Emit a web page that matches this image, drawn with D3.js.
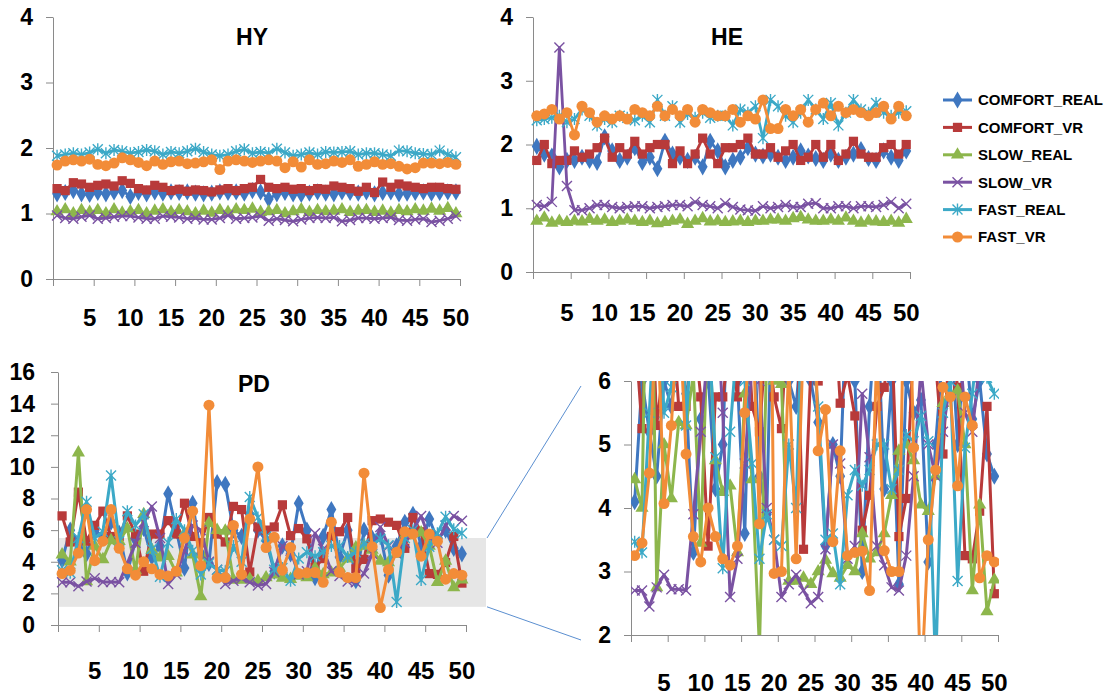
<!DOCTYPE html>
<html>
<head>
<meta charset="utf-8">
<script src="https://cdn.jsdelivr.net/npm/d3@7"></script>
<style>
  body { margin: 0; background: #fff; }
  svg text { font-family: "Liberation Sans", Arial, sans-serif; font-weight: bold; fill: #000; }
</style>
</head>
<body>
<svg id="chart" width="1112" height="698"></svg>
<script>
// ---- data ----
var categories = d3.range(1, 51);
var xTickLabels = [5, 10, 15, 20, 25, 30, 35, 40, 45, 50];
var seriesNames = ["COMFORT_REAL", "COMFORT_VR", "SLOW_REAL", "SLOW_VR", "FAST_REAL", "FAST_VR"];
var seriesColors = ["#3f77c0", "#b83a3a", "#8db64c", "#7a52a2", "#3ca9c7", "#f28c38"];
var seriesShapes = ["diamond", "square", "triangle", "x", "star", "circle"];

var hyComfortReal = [1.3,1.32,1.35,1.3,1.29,1.32,1.3,1.33,1.35,1.26,1.32,1.3,1.33,1.31,1.33,1.32,1.33,1.31,1.3,1.31,1.33,1.32,1.33,1.31,1.35,1.33,1.22,1.3,1.32,1.3,1.29,1.31,1.33,1.31,1.3,1.33,1.32,1.31,1.33,1.3,1.32,1.33,1.3,1.31,1.32,1.33,1.31,1.32,1.33,1.33];
var hyComfortVr = [1.38,1.35,1.47,1.45,1.4,1.43,1.45,1.42,1.5,1.46,1.38,1.36,1.43,1.4,1.35,1.37,1.34,1.36,1.35,1.33,1.36,1.38,1.35,1.38,1.4,1.52,1.4,1.38,1.4,1.37,1.38,1.35,1.38,1.37,1.42,1.4,1.38,1.34,1.4,1.32,1.48,1.4,1.45,1.42,1.4,1.38,1.4,1.4,1.38,1.37];
var hySlowReal = [1.03,1.06,1.0,1.05,1.02,1.05,1.0,1.06,1.01,1.03,1.05,1.0,1.04,1.06,1.02,1.05,1.03,1.0,1.04,1.01,1.05,1.02,1.06,1.05,1.07,1.02,1.03,1.05,1.0,1.03,1.06,1.02,1.05,1.03,1.04,1.06,1.02,1.04,1.05,1.02,1.04,1.01,1.05,1.03,1.06,1.04,1.07,1.04,1.08,1.0];
var hySlowVr = [0.97,0.93,0.92,0.95,0.97,0.92,0.93,0.95,0.96,0.96,0.94,0.92,0.92,0.96,0.95,0.94,0.92,0.93,0.91,0.91,0.93,0.97,0.92,0.93,0.94,0.96,0.89,0.92,0.9,0.88,0.91,0.93,0.94,0.93,0.94,0.88,0.9,0.93,0.93,0.92,0.93,0.94,0.9,0.89,0.91,0.92,0.87,0.89,0.92,0.96];
var hyFastReal = [1.88,1.9,1.92,1.9,1.93,1.98,1.92,1.97,1.95,1.92,1.94,1.97,1.95,1.9,1.94,1.92,1.95,1.99,1.94,1.9,1.88,1.9,1.95,1.98,1.92,1.94,1.92,1.99,1.93,1.88,1.9,1.93,1.9,1.94,1.93,1.94,1.95,1.9,1.92,1.92,1.9,1.88,1.96,1.95,1.92,1.91,1.9,1.96,1.9,1.86];
var hyFastVr = [1.74,1.8,1.82,1.8,1.83,1.75,1.73,1.77,1.85,1.82,1.78,1.73,1.8,1.75,1.79,1.8,1.76,1.77,1.79,1.82,1.67,1.8,1.82,1.8,1.78,1.8,1.82,1.8,1.7,1.79,1.71,1.82,1.75,1.76,1.8,1.78,1.82,1.72,1.75,1.79,1.75,1.76,1.72,1.68,1.7,1.77,1.77,1.76,1.78,1.75];

var heComfortReal = [1.97,1.85,1.82,1.65,1.75,1.75,1.8,1.75,1.72,2.12,1.9,1.75,1.8,1.95,1.72,1.8,1.62,2.05,1.85,1.8,1.75,1.8,1.65,2.05,1.9,1.65,1.75,1.8,1.95,1.85,1.82,1.85,1.8,1.75,1.8,1.9,1.82,1.78,1.75,1.85,1.75,1.8,1.85,1.92,1.78,1.75,1.9,1.8,1.75,1.9];
var heComfortVr = [1.75,2.0,1.7,1.75,1.75,1.9,1.8,1.85,1.95,2.1,1.8,1.95,1.85,2.05,1.85,1.95,2.0,2.0,1.7,1.9,1.7,1.85,2.1,1.85,1.7,1.95,1.95,2.0,2.1,1.85,1.85,1.95,1.8,1.9,2.0,1.75,1.8,2.0,1.8,2.0,1.75,1.85,2.05,1.85,1.8,1.8,1.95,2.0,1.85,2.0];
var heSlowReal = [0.8,0.85,0.77,0.8,0.78,0.8,0.79,0.83,0.8,0.82,0.78,0.8,0.82,0.8,0.78,0.8,0.76,0.78,0.8,0.82,0.75,0.8,0.84,0.79,0.8,0.78,0.79,0.8,0.78,0.8,0.8,0.82,0.82,0.8,0.84,0.86,0.82,0.8,0.8,0.82,0.8,0.85,0.8,0.77,0.8,0.79,0.78,0.8,0.77,0.83];
var heSlowVr = [1.05,1.03,1.1,3.52,1.35,0.97,0.97,1.0,1.05,1.05,1.02,1.0,1.02,1.03,1.03,1.0,1.02,1.03,1.05,1.05,1.03,1.1,1.05,1.03,1.0,1.08,1.02,0.98,0.97,0.96,1.03,1.0,1.02,1.05,1.02,1.02,1.07,1.08,1.0,1.0,1.03,1.03,1.0,1.03,1.03,1.02,1.05,1.1,1.0,1.07];
var heFastReal = [2.38,2.4,2.42,2.45,2.35,2.4,2.55,2.45,2.3,2.4,2.35,2.45,2.42,2.38,2.45,2.35,2.7,2.45,2.6,2.35,2.48,2.42,2.5,2.42,2.45,2.45,2.3,2.55,2.5,2.6,2.1,2.7,2.6,2.45,2.35,2.5,2.7,2.55,2.4,2.65,2.3,2.5,2.7,2.55,2.5,2.65,2.5,2.45,2.5,2.52];
var heFastVr = [2.45,2.48,2.55,2.4,2.5,2.15,2.6,2.5,2.35,2.45,2.4,2.45,2.4,2.55,2.5,2.45,2.6,2.45,2.55,2.45,2.55,2.35,2.55,2.5,2.45,2.45,2.55,2.35,2.45,2.4,2.7,2.25,2.25,2.55,2.45,2.55,2.35,2.55,2.65,2.45,2.6,2.5,2.55,2.5,2.45,2.5,2.6,2.4,2.6,2.45];

var pdComfortReal = [4.1,6.0,5.2,4.5,6.0,5.6,6.5,5.8,3.3,5.4,6.1,4.3,5.0,8.3,6.0,3.6,7.7,4.5,3.9,9.0,8.9,6.0,5.6,7.0,6.0,5.35,3.4,5.0,4.5,7.7,6.0,3.0,5.6,7.3,4.3,6.0,2.8,6.0,5.5,5.7,3.15,5.0,6.5,7.0,5.0,6.7,5.4,6.0,4.85,4.5];
var pdComfortVr = [6.9,5.25,8.4,5.3,6.3,7.2,5.6,5.6,6.9,5.75,3.4,5.75,5.75,6.6,5.75,7.7,5.6,5.2,6.8,5.75,5.25,7.5,7.3,3.35,6.2,6.0,6.2,7.6,5.65,6.1,5.45,3.65,4.2,5.6,5.9,6.8,3.55,4.15,6.6,6.7,6.5,6.3,4.85,6.8,5.9,3.25,3.2,3.95,5.6,2.65];
var pdSlowReal = [4.45,4.0,10.9,2.75,5.0,4.15,5.35,5.3,6.1,3.45,7.0,4.75,4.25,4.35,3.3,5.8,4.45,1.8,6.45,6.0,5.95,2.85,2.85,2.9,2.8,3.0,3.18,2.97,2.9,3.1,3.0,3.6,3.2,3.3,3.6,4.2,4.9,5.0,4.75,4.05,3.95,4.5,5.65,5.8,5.85,5.0,2.7,4.05,2.37,2.87];
var pdSlowVr = [2.7,2.7,2.45,2.75,2.95,2.72,2.72,2.7,3.9,5.2,6.5,7.5,5.5,2.6,3.2,4.7,6.3,6.0,4.0,3.5,2.6,2.8,2.95,2.7,2.5,2.6,3.35,5.0,4.7,3.2,3.4,5.8,4.8,3.4,3.1,2.75,2.7,3.25,4.5,6.2,5.0,4.5,5.2,6.0,6.9,5.5,5.2,6.3,6.9,6.6];
var pdFastReal = [3.47,3.3,5.5,7.8,5.5,5.9,9.45,5.3,7.2,6.3,7.0,4.8,3.05,5.2,6.7,6.0,4.7,3.2,3.9,3.5,3.4,5.0,4.0,8.1,6.8,5.6,3.5,3.6,2.8,4.2,4.6,4.35,4.6,5.0,5.0,4.3,4.6,5.15,5.05,5.45,5.05,1.45,5.5,6.0,2.85,4.95,5.8,6.85,6.05,5.8];
var pdFastVr = [3.25,3.45,4.55,7.3,4.07,5.3,7.3,4.85,3.55,3.15,4.0,3.55,3.2,3.1,3.4,5.5,7.2,3.75,13.9,2.97,3.0,6.3,3.2,6.7,10.0,4.9,5.55,3.47,4.9,3.25,3.3,3.32,2.7,6.5,3.33,3.0,3.0,9.6,4.95,1.1,3.5,4.6,5.9,5.75,4.35,5.75,5.3,2.9,3.25,3.15];

var hyValues = [hyComfortReal, hyComfortVr, hySlowReal, hySlowVr, hyFastReal, hyFastVr];
var heValues = [heComfortReal, heComfortVr, heSlowReal, heSlowVr, heFastReal, heFastVr];
var pdValues = [pdComfortReal, pdComfortVr, pdSlowReal, pdSlowVr, pdFastReal, pdFastVr];

var hyTicks = [0, 1, 2, 3, 4];
var pdTicks = [0, 2, 4, 6, 8, 10, 12, 14, 16];
var zoomTicks = [2, 3, 4, 5, 6];
var highlightRange = [1.15, 5.5];   // grey band marking the zoomed region

// ---- drawing ----
var svg = d3.select("#chart");
var axisColor = "#8a8a8a";

function markerPath(shape) {
  if (shape == "diamond") return d3.symbol(d3.symbolDiamond, 85)();
  if (shape == "square") return d3.symbol(d3.symbolSquare, 85)();
  if (shape == "triangle") return d3.symbol(d3.symbolTriangle, 75)();
  if (shape == "circle") return d3.symbol(d3.symbolCircle, 95)();
  if (shape == "x") return "M-5,-5L5,5M-5,5L5,-5";
  return "M-5,-5L5,5M-5,5L5,-5M0,-6L0,6";
}

function drawPanel(p) {
  var x = d3.scaleBand().domain(categories).range([p.x0, p.x1]);
  var xEdge = d3.scaleLinear().domain([0, categories.length]).range([p.x0, p.x1]);
  var y = d3.scaleLinear().domain(p.yDomain).range([p.yBottom, p.yTop]);
  var g = svg.append("g");

  if (p.band) {
    g.append("rect")
      .attr("x", p.x0)
      .attr("y", y(p.band[1]))
      .attr("width", p.bandRight - p.x0)
      .attr("height", y(p.band[0]) - y(p.band[1]))
      .attr("fill", "#e6e6e6");
  }

  // y axis
  var ya = g.append("g")
    .attr("transform", "translate(" + p.x0 + ",0)")
    .call(d3.axisLeft(y).tickValues(p.yTicks).tickFormat(d3.format("d"))
      .tickSize(7).tickSizeOuter(0).tickPadding(p.yPad));
  // x axis tick marks every 5 categories
  var xa = g.append("g")
    .attr("transform", "translate(0," + p.yBottom + ")")
    .call(d3.axisBottom(xEdge).tickValues(d3.range(0, 51, 5)).tickFormat("").tickSize(7).tickSizeOuter(0));
  // x labels at category centres
  var xl = g.append("g")
    .attr("transform", "translate(0," + p.yBottom + ")")
    .call(d3.axisBottom(x).tickValues(xTickLabels).tickSize(0).tickPadding(p.xPad));
  xl.select(".domain").remove();

  [ya, xa].forEach(function(a) {
    a.select(".domain").attr("stroke", axisColor);
    a.selectAll(".tick line").attr("stroke", axisColor);
  });
  ya.selectAll("text").style("font-size", "23px");
  xl.selectAll("text").style("font-size", "24px");

  if (p.title) {
    g.append("text")
      .attr("x", p.titleX).attr("y", p.titleY)
      .attr("text-anchor", "middle")
      .style("font-size", "23px")
      .text(p.title);
  }

  var plot = g.append("g");
  if (p.clip) {
    svg.append("clipPath").attr("id", p.clip)
      .append("rect")
      .attr("x", p.x0).attr("y", p.yTop)
      .attr("width", p.x1 - p.x0 + 1).attr("height", p.yBottom - p.yTop);
    plot.attr("clip-path", "url(#" + p.clip + ")");
  }

  var line = d3.line()
    .x(function(d, i) { return x(categories[i]) + x.bandwidth() / 2; })
    .y(function(d) { return y(d); });

  p.values.forEach(function(vals, s) {
    var col = seriesColors[s];
    var sg = plot.append("g");
    sg.append("path")
      .attr("d", line(vals))
      .attr("fill", "none")
      .attr("stroke", col)
      .attr("stroke-width", p.lineWidth)
      .attr("stroke-linejoin", "round");
    var stroked = seriesShapes[s] == "x" || seriesShapes[s] == "star";
    sg.selectAll(".m")
      .data(vals)
      .enter().append("path")
      .attr("transform", function(d, i) {
        return "translate(" + (x(categories[i]) + x.bandwidth() / 2) + "," + y(d) + ")";
      })
      .attr("d", markerPath(seriesShapes[s]))
      .attr("fill", stroked ? "none" : col)
      .attr("stroke", col)
      .attr("stroke-width", stroked ? 1.4 : 0);
  });
  return { x: x, y: y };
}

drawPanel({ values: hyValues, x0: 53, x1: 460, yTop: 17, yBottom: 279, yDomain: [0, 4], yTicks: hyTicks,
  yPad: 13, xPad: 30, lineWidth: 2.8, title: "HY", titleX: 252, titleY: 45 });
drawPanel({ values: heValues, x0: 533, x1: 910, yTop: 17, yBottom: 272, yDomain: [0, 4], yTicks: hyTicks,
  yPad: 13, xPad: 32, lineWidth: 2.8, title: "HE", titleX: 727, titleY: 45 });
var pd = drawPanel({ values: pdValues, x0: 58, x1: 466, yTop: 372, yBottom: 625, yDomain: [0, 16], yTicks: pdTicks,
  yPad: 16, xPad: 37, lineWidth: 3, title: "PD", titleX: 254, titleY: 392,
  band: highlightRange, bandRight: 486 });
drawPanel({ values: pdValues, x0: 631, x1: 998, yTop: 381, yBottom: 635, yDomain: [2, 6], yTicks: zoomTicks,
  yPad: 13, xPad: 39, lineWidth: 3, clip: "zoomclip" });

// connector lines from the grey band to the zoomed panel
var connectors = [[highlightRange[1], 386], [highlightRange[0], 640]];
svg.selectAll(".conn")
  .data(connectors)
  .enter().append("line")
  .attr("x1", 487).attr("y1", function(d) { return pd.y(d[0]); })
  .attr("x2", 581).attr("y2", function(d) { return d[1]; })
  .attr("stroke", "#5b8fd0")
  .attr("stroke-width", 1);

// legend
var legend = svg.append("g").attr("transform", "translate(943,100)");
seriesNames.forEach(function(name, i) {
  var row = legend.append("g").attr("transform", "translate(0," + (i * 27.4) + ")");
  row.append("line").attr("x1", 0).attr("x2", 29).attr("stroke", seriesColors[i]).attr("stroke-width", 3);
  var stroked = seriesShapes[i] == "x" || seriesShapes[i] == "star";
  row.append("path").attr("transform", "translate(14.5,0)")
    .attr("d", markerPath(seriesShapes[i]))
    .attr("fill", stroked ? "none" : seriesColors[i])
    .attr("stroke", seriesColors[i])
    .attr("stroke-width", stroked ? 1.4 : 0);
  row.append("text").attr("x", 35).attr("dy", "0.36em").style("font-size", "15px").text(name);
});
</script>
</body>
</html>
